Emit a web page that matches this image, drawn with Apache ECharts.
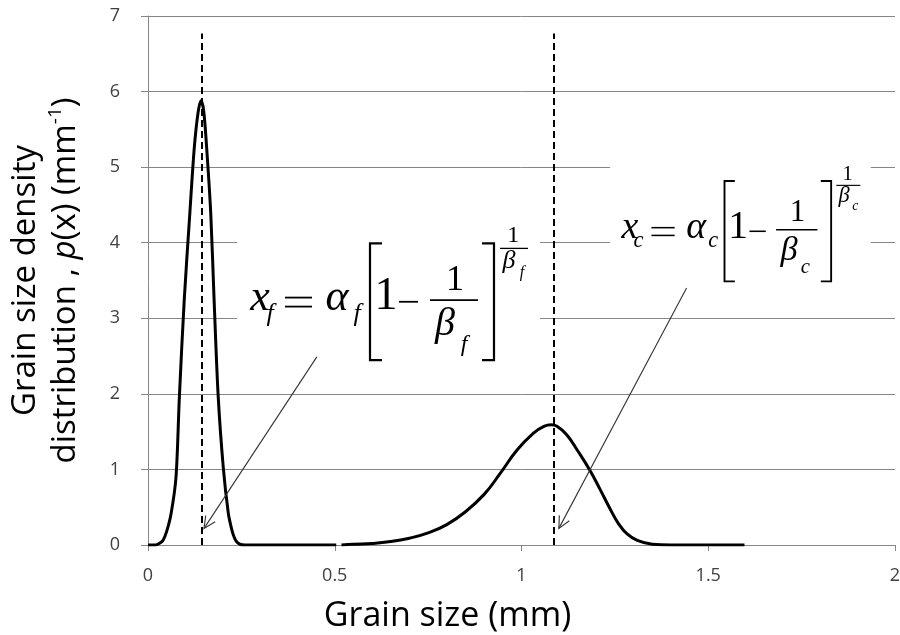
<!DOCTYPE html>
<html><head><meta charset="utf-8">
<script src="https://cdn.jsdelivr.net/npm/echarts@6/dist/echarts.min.js"></script>
<style>html,body{margin:0;padding:0;background:#fff}#c{width:900px;height:635px}</style>
</head><body><div id="c"></div>
<script>
// ---- data ----
const xTickLabels = ['0', '0.5', '1', '1.5', '2'];
const fineX = [0, 0.02, 0.03, 0.04, 0.05, 0.062, 0.075, 0.084, 0.097, 0.112, 0.124, 0.134, 0.142, 0.149, 0.157, 0.168, 0.177, 0.188, 0.202, 0.215, 0.222, 0.228, 0.236, 0.246, 0.26, 0.504];
const fineY = [0, 0, 0.02, 0.06, 0.18, 0.42, 0.9, 1.96, 3.24, 4.39, 5.26, 5.72, 5.88, 5.75, 5.26, 4.39, 3.24, 1.96, 1.0, 0.42, 0.25, 0.14, 0.05, 0.01, 0, 0];
const coarseX = [0.518, 0.55, 0.6, 0.65, 0.7, 0.75, 0.8, 0.85, 0.9, 0.942, 0.987, 1.032, 1.06, 1.08, 1.095, 1.121, 1.15, 1.183, 1.21, 1.237, 1.26, 1.282, 1.31, 1.35, 1.4, 1.597];
const coarseY = [0, 0.01, 0.02, 0.045, 0.09, 0.16, 0.27, 0.44, 0.67, 0.94, 1.25, 1.48, 1.57, 1.59, 1.57, 1.46, 1.25, 0.99, 0.74, 0.48, 0.28, 0.15, 0.06, 0.01, 0, 0];
const modeX = [0.143, 1.087];
const modeTop = 6.77;
const arrowFrom = [[0.452, 2.49], [1.442, 3.40]];
const arrowTo = [[0.150, 0.22], [1.100, 0.22]];
const formulaAnchor = [[0.2597, 3.082], [1.2557, 4.034]];
const formulaSub = ['f', 'c'];

// ---- styles ----
const formulaScale = [1, 0.86];
const SANS = '"Open Sans", sans-serif';
const SERIF = '"Liberation Serif", serif';

function formulaChildren(sub) {
  const T = (t, cx, base, size, italic) => ({type: 'text', style: {text: t, x: cx, y: base - 0.32 * size, fontSize: size, fontFamily: SERIF, fontStyle: italic ? 'italic' : 'normal', fill: '#000', align: 'center', verticalAlign: 'middle'}});
  const L = (x1, y1, x2, y2, w) => ({type: 'line', shape: {x1, y1, x2, y2}, style: {stroke: '#000', lineWidth: w || 1.8}});
  const P = (pts) => ({type: 'polyline', shape: {points: pts}, style: {stroke: '#000', lineWidth: 2.2, fill: null}});
  return [
    {type: 'rect', shape: {x: -8, y: -98, width: 303, height: 146}, style: {fill: '#fff'}},
    T('x', 15, 0, 44, true), T(sub, 25, 10, 26, true),
    L(40, -14.5, 67, -14.5), L(40, -5.5, 67, -5.5),
    T('α', 92, 0, 44, true), T(sub, 112, 10, 26, true),
    P([[137, -68.7], [125, -68.7], [125, 48], [137, 48]]),
    T('1', 141, 0, 46, false),
    L(154, -10.3, 173, -10.3),
    L(185, -12, 233, -12),
    T('1', 210, -20.3, 36, false),
    T('β', 200, 25, 40, true), T(sub, 219, 40, 24, true),
    P([[237, -68.7], [249, -68.7], [249, 48], [237, 48]]),
    T('1', 268.3, -68.7, 24, false),
    L(255, -63.7, 283, -63.7, 1.3),
    T('β', 264, -42.6, 26, true), T(sub, 277, -34, 16, true)
  ];
}

const chart = echarts.init(document.getElementById('c'), null, {renderer: 'canvas'});
const axisGray = '#868686';
chart.setOption({
  animation: false,
  backgroundColor: '#fff',
  grid: {left: 148, right: 5, top: 16, bottom: 90, outerBoundsMode: 'none', containLabel: false},
  xAxis: {
    type: 'value', min: 0, max: 2, interval: 0.5,
    axisLine: {show: true, lineStyle: {color: axisGray, width: 1}},
    axisTick: {show: true, length: 6, lineStyle: {color: axisGray}},
    splitLine: {show: false},
    axisLabel: {margin: 22, fontSize: 18, fontFamily: SANS, color: '#404040',
      formatter: (v) => xTickLabels[Math.round(v / 0.5)]},
    name: 'Grain size (mm)', nameLocation: 'middle', nameGap: 54,
    nameTextStyle: {fontSize: 34, fontFamily: SANS, color: '#000', padding: [0, 148, 0, 0]}
  },
  yAxis: {
    type: 'value', min: 0, max: 7, interval: 1,
    axisLine: {show: true, lineStyle: {color: axisGray, width: 1}},
    axisTick: {show: true, length: 7, lineStyle: {color: axisGray}},
    splitLine: {show: true, lineStyle: {color: axisGray, width: 1}},
    axisLabel: {margin: 28, fontSize: 18, fontFamily: SANS, color: '#404040'},
    name: '{a|Grain size density}\n{a|distribution , }{i|p}{a|(x) (mm}{s|-1}{a|)}',
    nameLocation: 'middle', nameRotate: 90, nameGap: 62,
    nameTextStyle: {
      fontSize: 33, fontFamily: SANS, color: '#000', lineHeight: 40,
      rich: {
        a: {fontSize: 33, fontFamily: SANS, color: '#000', lineHeight: 40},
        i: {fontSize: 33, fontFamily: SANS, fontStyle: 'italic', color: '#000', lineHeight: 40},
        s: {fontSize: 19, fontFamily: SANS, color: '#000', verticalAlign: 'top', lineHeight: 40, padding: [0, 0, 14, 0]}
      }
    }
  },
  series: [
    {
      type: 'line', name: 'fine', data: fineX.map((x, i) => [x, fineY[i]]),
      showSymbol: false, smooth: 0.3, silent: true,
      lineStyle: {color: '#000', width: 3}, z: 3,
      markLine: {
        silent: true, symbol: ['none', 'none'], label: {show: false},
        lineStyle: {color: '#000', width: 2, type: [7, 4]},
        data: modeX.map((m) => [{coord: [m, 0]}, {coord: [m, modeTop]}])
      }
    },
    {
      type: 'line', name: 'coarse', data: coarseX.map((x, i) => [x, coarseY[i]]),
      showSymbol: false, smooth: 0.45, silent: true,
      lineStyle: {color: '#000', width: 3}, z: 3
    },
    {
      type: 'custom', name: 'formula', silent: true, clip: false, z: 5,
      data: formulaAnchor.map((a, i) => [a[0], a[1], i]),
      renderItem: (params, api) => {
        const i = api.value(2);
        const p = api.coord([api.value(0), api.value(1)]);
        const s = formulaScale[i];
        return {type: 'group', x: p[0], y: p[1], scaleX: s, scaleY: s, children: formulaChildren(formulaSub[i])};
      }
    },
    {
      type: 'custom', name: 'arrows', silent: true, clip: false, z: 6,
      data: arrowFrom.map((a, i) => [a[0], a[1], arrowTo[i][0], arrowTo[i][1]]),
      renderItem: (params, api) => {
        const p0 = api.coord([api.value(0), api.value(1)]);
        const p1 = api.coord([api.value(2), api.value(3)]);
        const ang = Math.atan2(p0[1] - p1[1], p0[0] - p1[0]);
        const hl = 13, ha = 0.45;
        return {type: 'group', children: [
          {type: 'line', shape: {x1: p0[0], y1: p0[1], x2: p1[0], y2: p1[1]}, style: {stroke: '#333', lineWidth: 1.1}},
          {type: 'polyline', shape: {points: [
            [p1[0] + hl * Math.cos(ang + ha), p1[1] + hl * Math.sin(ang + ha)],
            [p1[0], p1[1]],
            [p1[0] + hl * Math.cos(ang - ha), p1[1] + hl * Math.sin(ang - ha)]
          ]}, style: {stroke: '#333', lineWidth: 1.1, fill: null}}
        ]};
      }
    }
  ]
});
</script></body></html>
